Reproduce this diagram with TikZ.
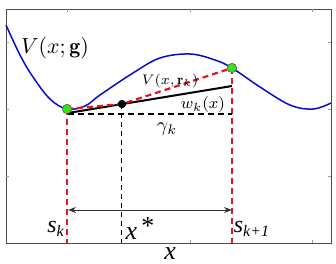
\documentclass[tikz,border=0pt]{standalone}
\usepackage{amsmath}
\usepackage{amssymb}
\usepackage{fontspec}
\newfontfamily\timesfont{Liberation Serif}
\usetikzlibrary{arrows.meta,positioning}
\definecolor{ptgreen}{RGB}{50,230,20}
\definecolor{curveblue}{RGB}{10,10,200}
\definecolor{cutred}{RGB}{225,25,30}

\begin{document}
\begin{tikzpicture}[x=0.5bp,y=-0.5bp]
  \tikzstyle{pt}=[circle,draw,inner sep=0pt]
  \tikzstyle{gpt}=[pt,fill=ptgreen,draw=black!60,minimum size=4.6bp,line width=0.3bp]
  \tikzstyle{bpt}=[pt,fill=black,minimum size=3.6bp]
  \tikzstyle{reddash}=[cutred,line width=1.3bp,dash pattern=on 3bp off 2bp]
  \tikzstyle{blkdash}=[black,line width=0.5bp,dash pattern=on 2.5bp off 2bp]
  \tikzstyle{lbl}=[inner sep=0pt]
  \useasboundingbox (0,0) rectangle (336,264);

  % frame and ticks
  \draw[black!70,line width=0.4bp] (6,9) rectangle (331,243);
  \foreach \t in {67,190,312} {
    \draw[black!40,line width=0.4bp] (\t,9) -- (\t,12);
    \draw[black!40,line width=0.4bp] (\t,243) -- (\t,240);
  }
  \foreach \t in {42,109,176} {
    \draw[black!40,line width=0.4bp] (6,\t) -- (9,\t);
    \draw[black!40,line width=0.4bp] (331,\t) -- (328,\t);
  }

  % value function
  \draw[curveblue,line width=0.75bp] plot[smooth,tension=0.6] coordinates {
    (6,25) (20,55) (33,77) (50,99) (67,109) (85,106) (100,95) (133,73)
    (160,58) (190,54) (215,60) (232,68) (260,87) (290,105) (313,109) (331,103)};

  \coordinate (b1) at (67,243);
  \coordinate (b0) at (122,243);
  \coordinate (b2) at (232,243);
  \coordinate (l1) at (68,113);
  \coordinate (l2) at (232,86);
  \coordinate (h1) at (68,114);
  \coordinate (h2) at (232,114);
  \coordinate (a1) at (68,210);
  \coordinate (a2) at (232,210);

  \node[gpt] (g1) at (67,109) {};
  \node[gpt] (g2) at (232,68) {};
  \node[bpt] (m) at (122,104) {};

  \draw[reddash] (g1.center) -- (b1);
  \draw[reddash] (g2.center) -- (b2);
  \draw[blkdash] (m.center) -- (b0);
  \draw[black,line width=0.6bp,dash pattern=on 3bp off 2bp] (h1) -- (h2);
  \draw[black,line width=1bp] (l1) -- (l2);
  \draw[reddash,line width=1.1bp] (g1.center) -- (m.center) -- (g2.center);
  \draw[{Stealth[length=4bp,width=3bp]}-{Stealth[length=4bp,width=3bp]},black!80,line width=0.5bp] (a1) -- (a2);

  \node[gpt] at (g1) {};
  \node[gpt] at (g2) {};
  \node[bpt] at (m) {};

  % labels
  \node[lbl,font=\fontsize{11}{13}\selectfont] (vg) at (55,48) {$V(x;\mathbf{g})$};
  \node[lbl,font=\fontsize{7}{8}\selectfont] (vr) at (170,81) {$V(x,\mathbf{r}_k)$};
  \node[lbl,font=\fontsize{8.5}{10}\selectfont] (wk) at (203,105) {$w_k(x)$};
  \node[lbl,font=\fontsize{10}{12}\selectfont] (gk) at (167,129) {$\gamma_k$};
  \node[lbl,font=\fontsize{12}{14}\timesfont\itshape] (sk) at (56,229) {s\textsubscript{\fontsize{8}{9}\selectfont k}};
  \node[lbl,font=\fontsize{12}{14}\timesfont\itshape] (sk1) at (252,229) {s\textsubscript{\fontsize{8}{9}\selectfont k+1}};
  \node[lbl,font=\fontsize{13}{15}\timesfont\itshape] (xs) at (140,229) {x\,\raisebox{2.5bp}{\upshape *}};
  \node[lbl,font=\fontsize{13}{15}\timesfont\itshape] (xl) at (170,254) {x};
\end{tikzpicture}
\end{document}
